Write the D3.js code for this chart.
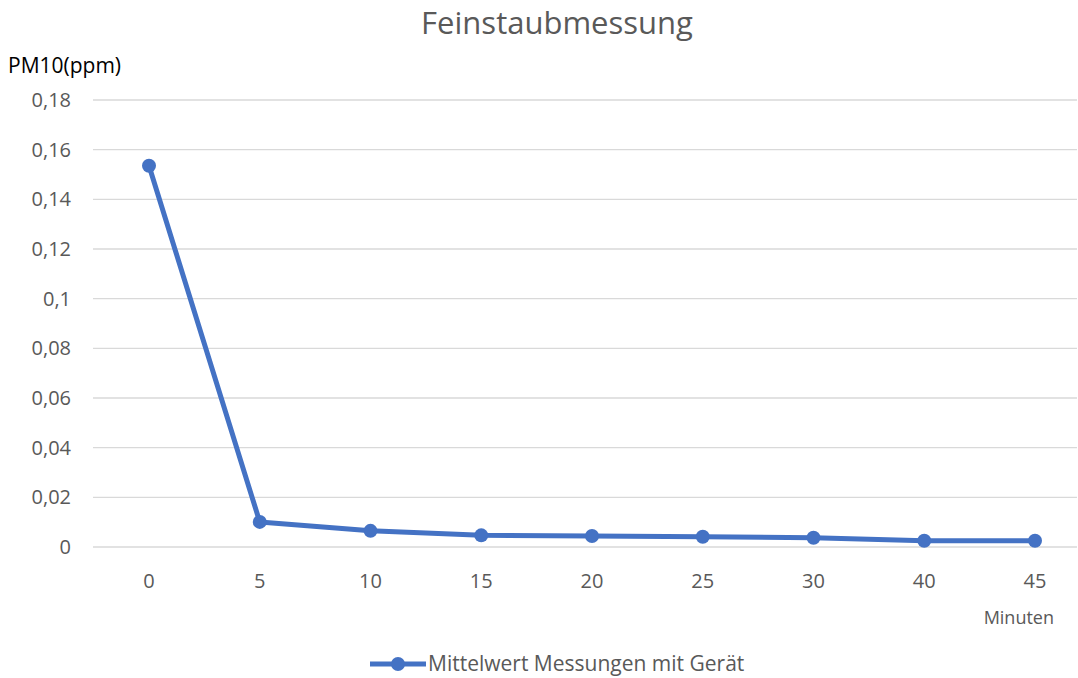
<!DOCTYPE html>
<html>
<head>
<meta charset="utf-8">
<script src="https://cdn.jsdelivr.net/npm/d3@7"></script>
<style>
  body { margin: 0; background: #fff; }
  text { font-family: "Open Sans", "Noto Sans", sans-serif; }
</style>
</head>
<body>
<svg id="chart" width="1078" height="678"></svg>
<script>
// data
var minutes = ["0", "5", "10", "15", "20", "25", "30", "40", "45"];
var pm10 = [0.1535, 0.0101, 0.0065, 0.0047, 0.0044, 0.0041, 0.0037, 0.0025, 0.0025];
var yTicks = [0, 0.02, 0.04, 0.06, 0.08, 0.1, 0.12, 0.14, 0.16, 0.18];
var seriesName = "Mittelwert Messungen mit Gerät";

var svg = d3.select("#chart");
var gridLeft = 93, gridRight = 1077, plotTop = 100, plotBottom = 547;
var blue = "#4472c4";

var x = d3.scalePoint().domain(minutes).range([149, 1035]);
var y = d3.scaleLinear().domain([0, 0.18]).range([plotBottom, plotTop]);

var fmt = function(d) { return d === 0 ? "0" : String(d).replace(".", ","); };

// grid
svg.append("g").selectAll("line")
  .data(yTicks)
  .enter().append("line")
  .attr("x1", gridLeft).attr("x2", gridRight)
  .attr("y1", function(d) { return y(d); })
  .attr("y2", function(d) { return y(d); })
  .style("stroke", "#d9d9d9")
  .style("stroke-width", 1.3);

// y axis labels
svg.append("g").selectAll("text")
  .data(yTicks)
  .enter().append("text")
  .attr("x", 71)
  .attr("y", function(d) { return y(d); })
  .attr("dy", "0.35em")
  .attr("text-anchor", "end")
  .style("font-size", "20px")
  .style("fill", "#595959")
  .text(fmt);

// x axis labels
svg.append("g").selectAll("text")
  .data(minutes)
  .enter().append("text")
  .attr("x", function(d) { return x(d); })
  .attr("y", 588)
  .attr("text-anchor", "middle")
  .style("font-size", "20px")
  .style("fill", "#595959")
  .text(function(d) { return d; });

// line + markers
var line = d3.line()
  .x(function(d, i) { return x(minutes[i]); })
  .y(function(d) { return y(d); });

svg.append("path")
  .datum(pm10)
  .attr("d", line)
  .style("fill", "none")
  .style("stroke", blue)
  .style("stroke-width", 5)
  .style("stroke-linejoin", "round");

svg.append("g").selectAll("circle")
  .data(pm10)
  .enter().append("circle")
  .attr("cx", function(d, i) { return x(minutes[i]); })
  .attr("cy", function(d) { return y(d); })
  .attr("r", 7)
  .style("fill", blue);

// title and axis titles
svg.append("text")
  .attr("x", 557).attr("y", 34)
  .attr("text-anchor", "middle")
  .style("font-size", "31px")
  .style("fill", "#595959")
  .text("Feinstaubmessung");

svg.append("text")
  .attr("x", 8).attr("y", 73)
  .style("font-size", "21px")
  .style("fill", "#000")
  .text("PM10(ppm)");

svg.append("text")
  .attr("x", 1054).attr("y", 624)
  .attr("text-anchor", "end")
  .style("font-size", "18px")
  .style("fill", "#595959")
  .text("Minuten");

// legend
var lg = svg.append("g").attr("transform", "translate(370,664)");
lg.append("line")
  .attr("x1", 0).attr("x2", 56).attr("y1", 0).attr("y2", 0)
  .style("stroke", blue).style("stroke-width", 5);
lg.append("circle").attr("cx", 28).attr("cy", 0).attr("r", 7).style("fill", blue);
lg.append("text")
  .attr("x", 58).attr("y", 0).attr("dy", "0.35em")
  .style("font-size", "21px")
  .style("fill", "#595959")
  .text(seriesName);
</script>
</body>
</html>
